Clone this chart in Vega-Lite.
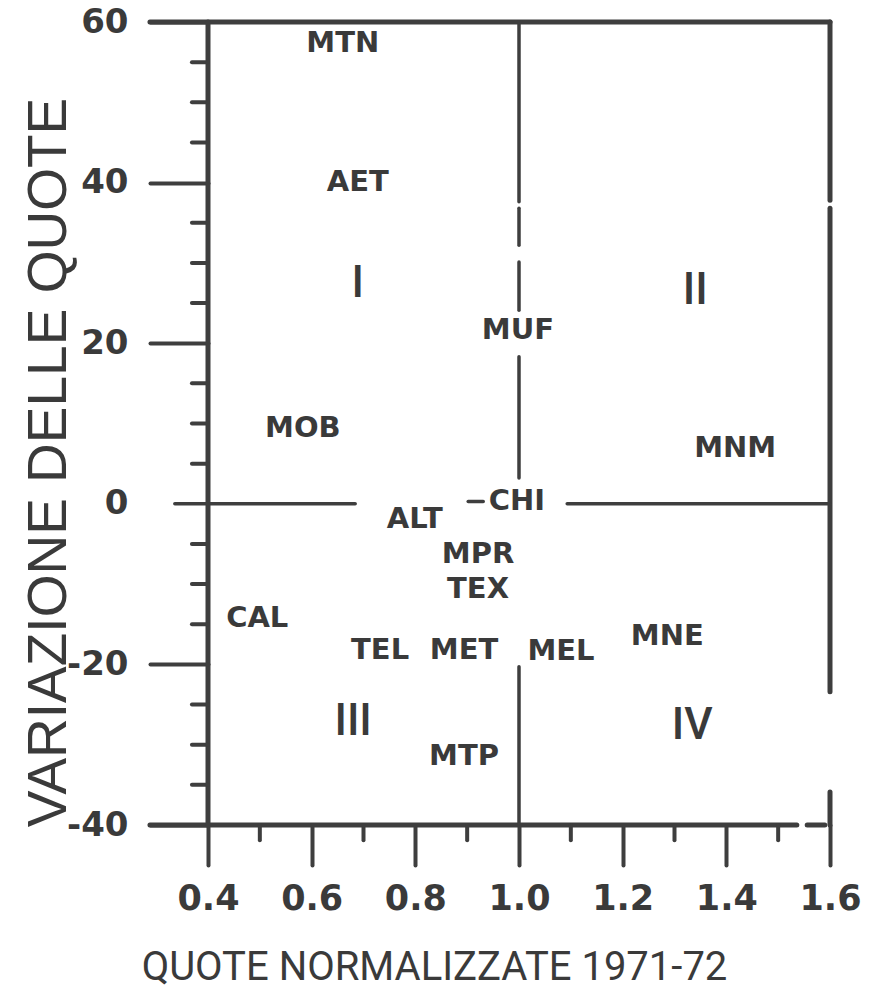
{
  "$schema": "https://vega.github.io/schema/vega-lite/v6.json",
  "width": 622,
  "height": 803,
  "autosize": {"type": "none"},
  "padding": {"left": 208, "top": 22, "right": 41, "bottom": 167},
  "background": "white",
  "config": {"view": {"stroke": null}},
  "datasets": {
    "frame": [
      {"x": 0.288, "x2": 1.6, "y": 60, "y2": 60},
      {"x": 1.6, "x2": 1.6, "y": 60, "y2": 37.8},
      {"x": 1.6, "x2": 1.6, "y": 36.8, "y2": -23.4},
      {"x": 1.6, "x2": 1.6, "y": -35.9, "y2": -40},
      {"x": 0.288, "x2": 1.536, "y": -40, "y2": -40},
      {"x": 1.556, "x2": 1.59, "y": -40, "y2": -40},
      {"x": 0.4, "x2": 0.4, "y": 60, "y2": -40}
    ],
    "dividers": [
      {"x": 1.0, "x2": 1.0, "y": 60, "y2": 37.6},
      {"x": 1.0, "x2": 1.0, "y": 36.8, "y2": 32.2},
      {"x": 1.0, "x2": 1.0, "y": 30.1, "y2": 24.1},
      {"x": 1.0, "x2": 1.0, "y": 18.3, "y2": 3.2},
      {"x": 1.0, "x2": 1.0, "y": -20.3, "y2": -40},
      {"x": 0.336, "x2": 0.684, "y": 0, "y2": 0},
      {"x": 0.902, "x2": 0.931, "y": 0.3, "y2": 0.3},
      {"x": 1.093, "x2": 1.6, "y": 0, "y2": 0}
    ],
    "minorTicks": [
      {"x": 0.369, "x2": 0.4, "y": 55, "y2": 55},
      {"x": 0.369, "x2": 0.4, "y": 50, "y2": 50},
      {"x": 0.369, "x2": 0.4, "y": 45, "y2": 45},
      {"x": 0.369, "x2": 0.4, "y": 35, "y2": 35},
      {"x": 0.369, "x2": 0.4, "y": 30, "y2": 30},
      {"x": 0.369, "x2": 0.4, "y": 25, "y2": 25},
      {"x": 0.369, "x2": 0.4, "y": 15, "y2": 15},
      {"x": 0.369, "x2": 0.4, "y": 10, "y2": 10},
      {"x": 0.369, "x2": 0.4, "y": 5, "y2": 5},
      {"x": 0.369, "x2": 0.4, "y": -5, "y2": -5},
      {"x": 0.369, "x2": 0.4, "y": -10, "y2": -10},
      {"x": 0.369, "x2": 0.4, "y": -15, "y2": -15},
      {"x": 0.369, "x2": 0.4, "y": -25, "y2": -25},
      {"x": 0.369, "x2": 0.4, "y": -30, "y2": -30},
      {"x": 0.369, "x2": 0.4, "y": -35, "y2": -35},
      {"x": 0.5, "x2": 0.5, "y": -40, "y2": -41.9},
      {"x": 0.7, "x2": 0.7, "y": -40, "y2": -41.9},
      {"x": 0.9, "x2": 0.9, "y": -40, "y2": -41.9},
      {"x": 1.1, "x2": 1.1, "y": -40, "y2": -41.9},
      {"x": 1.3, "x2": 1.3, "y": -40, "y2": -41.9},
      {"x": 1.5, "x2": 1.5, "y": -40, "y2": -41.9}
    ],
    "sectors": [
      {"label": "MTN", "x": 0.66, "y": 57.4},
      {"label": "AET", "x": 0.689, "y": 40.1},
      {"label": "MUF", "x": 0.998, "y": 21.6},
      {"label": "MOB", "x": 0.583, "y": 9.4},
      {"label": "MNM", "x": 1.417, "y": 7.0},
      {"label": "ALT", "x": 0.799, "y": -1.9},
      {"label": "CHI", "x": 0.996, "y": 0.35},
      {"label": "MPR", "x": 0.921, "y": -6.2},
      {"label": "TEX", "x": 0.921, "y": -10.6},
      {"label": "CAL", "x": 0.495, "y": -14.2},
      {"label": "TEL", "x": 0.732, "y": -18.2},
      {"label": "MET", "x": 0.894, "y": -18.2},
      {"label": "MEL", "x": 1.081, "y": -18.3},
      {"label": "MNE", "x": 1.286, "y": -16.5},
      {"label": "MTP", "x": 0.894, "y": -31.4}
    ],
    "quadrants": [
      {"label": "I", "x": 0.689, "y": 27.4},
      {"label": "II", "x": 1.34, "y": 26.5},
      {"label": "III", "x": 0.68, "y": -27.2},
      {"label": "IV", "x": 1.334, "y": -27.7}
    ]
  },
  "encoding": {
    "x": {
      "field": "x",
      "type": "quantitative",
      "scale": {"domain": [0.4, 1.6], "nice": false, "zero": false},
      "axis": {
        "values": [0.4, 0.6, 0.8, 1.0, 1.2, 1.4, 1.6],
        "format": ".1f",
        "grid": false,
        "domain": false,
        "tickSize": 40,
        "tickWidth": 4,
        "tickColor": "#3e3e3e",
        "tickCap": "round",
        "labelFont": "DejaVu Sans",
        "labelFontWeight": "bold",
        "labelFontSize": 35,
        "labelColor": "#3a3a3a",
        "labelPadding": 16,
        "labelFlush": false,
        "labelOverlap": false,
        "title": "QUOTE NORMALIZZATE 1971-72",
        "titleFont": "Roboto",
        "titleFontSize": 40,
        "titleFontWeight": "normal",
        "titleColor": "#3a3a3a",
        "titleX": 226,
        "titleY": 154,
        "titleAlign": "center",
        "titleBaseline": "alphabetic"
      }
    },
    "y": {
      "field": "y",
      "type": "quantitative",
      "scale": {"domain": [-40, 60], "nice": false, "zero": false},
      "axis": {
        "values": [-40, -20, 0, 20, 40, 60],
        "labelExpr": "datum.value < 0 ? '-' + abs(datum.value) : '' + datum.value",
        "grid": false,
        "domain": false,
        "tickSize": 58,
        "tickWidth": 4,
        "tickColor": "#3e3e3e",
        "tickCap": "round",
        "tickOpacity": {"condition": {"test": "datum.value === 0", "value": 0}, "value": 1},
        "labelFont": "DejaVu Sans",
        "labelFontWeight": "bold",
        "labelFontSize": 34,
        "labelColor": "#3a3a3a",
        "labelPadding": 22,
        "labelFlush": false,
        "labelOverlap": false,
        "title": "VARIAZIONE DELLE QUOTE",
        "titleFont": "Liberation Sans",
        "titleFontSize": 55,
        "titleFontWeight": "normal",
        "titleColor": "#3a3a3a",
        "titleAngle": -90,
        "titleX": -143,
        "titleY": 440,
        "titleAlign": "center",
        "titleBaseline": "alphabetic"
      }
    }
  },
  "layer": [
    {
      "data": {"name": "frame"},
      "mark": {"type": "rule", "color": "#3e3e3e", "strokeWidth": 5, "strokeCap": "round"},
      "encoding": {"x2": {"field": "x2"}, "y2": {"field": "y2"}}
    },
    {
      "data": {"name": "dividers"},
      "mark": {"type": "rule", "color": "#3e3e3e", "strokeWidth": 3.5, "strokeCap": "round"},
      "encoding": {"x2": {"field": "x2"}, "y2": {"field": "y2"}}
    },
    {
      "data": {"name": "minorTicks"},
      "mark": {"type": "rule", "color": "#3e3e3e", "strokeWidth": 4, "strokeCap": "round"},
      "encoding": {"x2": {"field": "x2"}, "y2": {"field": "y2"}}
    },
    {
      "data": {"name": "sectors"},
      "mark": {"type": "text", "font": "DejaVu Sans", "fontWeight": "bold", "fontSize": 29, "color": "#3a3a3a", "align": "center", "baseline": "middle"},
      "encoding": {"text": {"field": "label"}}
    },
    {
      "data": {"name": "quadrants"},
      "mark": {"type": "text", "font": "Roboto", "fontWeight": 500, "fontSize": 44, "color": "#3a3a3a", "align": "center", "baseline": "middle"},
      "encoding": {"text": {"field": "label"}}
    }
  ]
}
